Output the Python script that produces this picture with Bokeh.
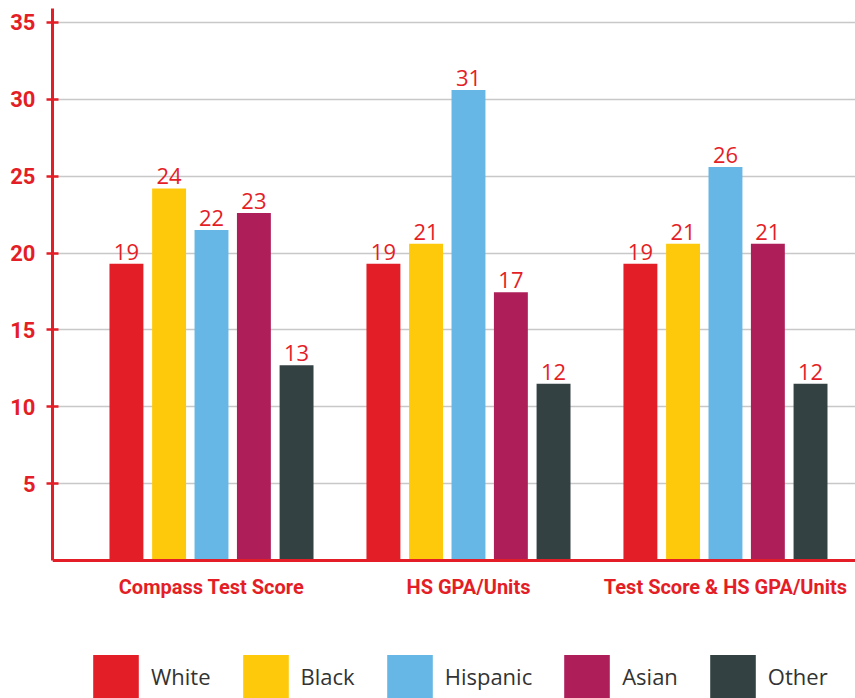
from bokeh.plotting import figure
from bokeh.models import ColumnDataSource, FixedTicker, Legend, LegendItem, Span
from bokeh.core.properties import value
from bokeh.embed import file_html
from bokeh.resources import INLINE

categories = ["Compass Test Score", "HS GPA/Units", "Test Score & HS GPA/Units"]
groups = ["White", "Black", "Hispanic", "Asian", "Other"]
white = [19.3, 19.3, 19.3]
black = [24.2, 20.6, 20.6]
hispanic = [21.5, 30.6, 25.6]
asian = [22.6, 17.45, 20.6]
other = [12.7, 11.5, 11.5]
y_ticks = [5, 10, 15, 20, 25, 30, 35]

colors = ["#e41e26", "#fdc90a", "#66b7e5", "#ae1f5a", "#344143"]
series = [white, black, hispanic, asian, other]
offsets = [-0.331, -0.165, 0.0, 0.165, 0.331]
RED = "#e41e26"
BOLD_FONT = "Roboto"

p = figure(width=855, height=698, output_backend="svg", toolbar_location=None,
           x_axis_location=None,
           x_range=(-0.6187, 2.506), y_range=(-8.98, 35.91),
           min_border_left=52, min_border_right=0, min_border_top=8, min_border_bottom=0)
p.outline_line_color = None
p.background_fill_color = "white"

# grid
p.ygrid.ticker = FixedTicker(ticks=y_ticks)
p.ygrid.grid_line_color = "#c8c8c8"
p.ygrid.grid_line_width = 1.5
for g in p.xgrid:
    g.visible = False

items = []
for name, vals, col, off in zip(groups, series, colors, offsets):
    xs = [i + off for i in range(len(categories))]
    src = ColumnDataSource(dict(x=xs, top=vals,
                                lab=[str(int(v + 0.5)) for v in vals]))
    r = p.vbar(x="x", top="top", bottom=0, width=0.132, source=src,
               fill_color=col, line_color=None)
    p.text(x="x", y="top", text="lab", source=src, text_align="center",
           text_baseline="alphabetic", y_offset=-12, text_color=RED,
           text_font=value("Open Sans"), text_font_size="22px")
    items.append(LegendItem(label=name, renderers=[r]))

# category labels under the baseline
cat_src = ColumnDataSource(dict(x=list(range(len(categories))),
                                y=[0] * len(categories), t=categories))
p.text(x="x", y="y", text="t", source=cat_src, text_align="center",
       text_baseline="alphabetic", y_offset=27, text_color=RED,
       text_font=value(BOLD_FONT), text_font_style="bold", text_font_size="20px")

# baseline (x axis line)
p.add_layout(Span(location=0, dimension="width", line_color=RED, line_width=3))

# y axis
p.yaxis.bounds = (0, 35.91)
p.yaxis.ticker = FixedTicker(ticks=y_ticks)
p.yaxis.axis_line_color = RED
p.yaxis.axis_line_width = 3
p.yaxis.major_tick_line_color = RED
p.yaxis.major_tick_line_width = 2.5
p.yaxis.major_tick_in = 6
p.yaxis.major_tick_out = 6
p.yaxis.minor_tick_line_color = None
p.yaxis.major_label_standoff = 11
p.yaxis.major_label_text_color = RED
p.yaxis.major_label_text_font = BOLD_FONT
p.yaxis.major_label_text_font_style = "bold"
p.yaxis.major_label_text_font_size = "22px"

legend = Legend(items=items, orientation="horizontal", location=(35, -5),
                glyph_width=57, glyph_height=54, label_standoff=7, spacing=26,
                padding=0, margin=0, border_line_color=None,
                background_fill_alpha=0, label_text_font="Open Sans",
                label_text_font_size="22px", label_text_color="#333333")
p.add_layout(legend, "center")

open("out.html", "w").write(file_html(p, INLINE))
